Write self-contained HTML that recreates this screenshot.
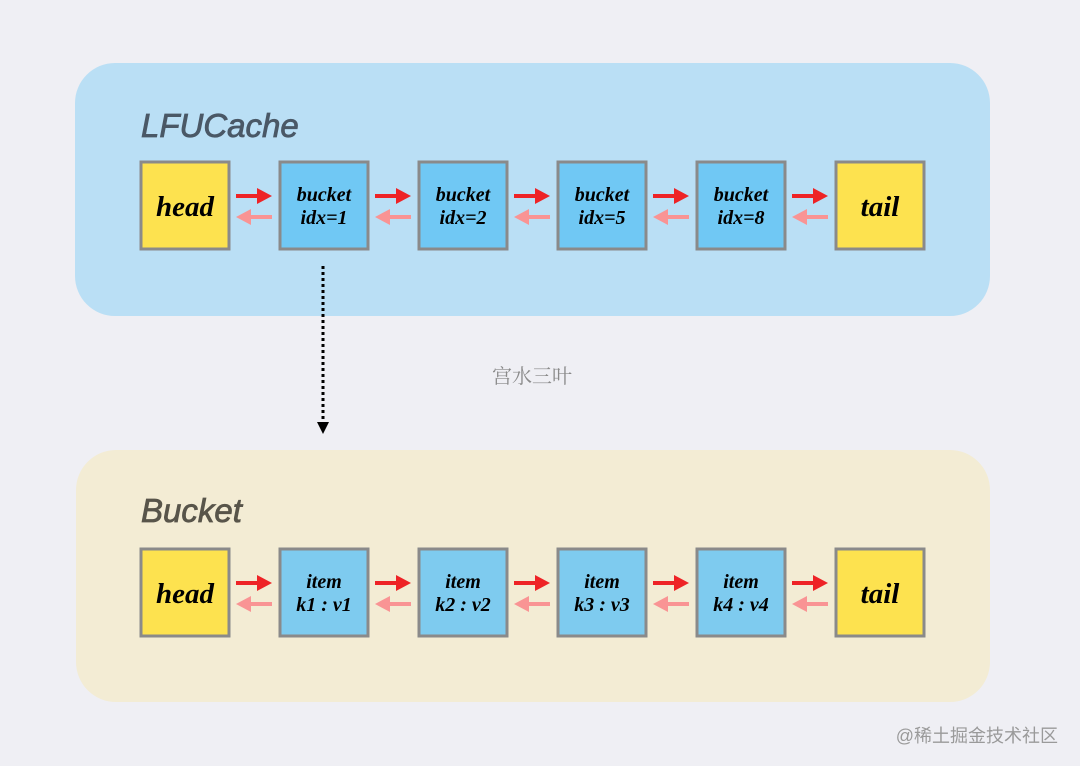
<!DOCTYPE html>
<html><head><meta charset="utf-8"><style>
html,body{margin:0;padding:0;background:#efeff4;}
svg{display:block}
.t{font-family:"Liberation Serif",serif;font-weight:bold;font-style:italic;fill:#000;text-anchor:middle}
</style></head><body>
<svg width="1080" height="766" viewBox="0 0 1080 766" xmlns="http://www.w3.org/2000/svg">
<defs>
<g id="arr">
 <line x1="236" y1="0" x2="259" y2="0" stroke="#ee2326" stroke-width="4"/>
 <polygon points="257,-8 272,0 257,8" fill="#ee2326"/>
 <line x1="249" y1="21" x2="272" y2="21" stroke="#f99494" stroke-width="4"/>
 <polygon points="251,13 236,21 251,29" fill="#f99494"/>
</g>
</defs>
<rect x="0" y="0" width="1080" height="766" fill="#efeff4"/>
<rect x="75" y="63" width="915" height="253" rx="40" fill="#badff5"/>
<rect x="76" y="450" width="914" height="252" rx="40" fill="#f3ecd4"/>
<text x="141" y="137" font-family="Liberation Sans,sans-serif" font-style="italic" font-size="33" fill="#4a5866" stroke="#4a5866" stroke-width="0.8">LFUCache</text>
<text x="141" y="522" font-family="Liberation Sans,sans-serif" font-style="italic" font-size="33" fill="#58554a" stroke="#58554a" stroke-width="0.8">Bucket</text>

<!-- row 1 -->
<g stroke="#8a8a8a" stroke-width="3">
<rect x="141" y="162" width="88" height="87" fill="#fde24f"/>
<rect x="280" y="162" width="88" height="87" fill="#70c8f4"/>
<rect x="419" y="162" width="88" height="87" fill="#70c8f4"/>
<rect x="558" y="162" width="88" height="87" fill="#70c8f4"/>
<rect x="697" y="162" width="88" height="87" fill="#70c8f4"/>
<rect x="836" y="162" width="88" height="87" fill="#fde24f"/>
</g>
<text class="t" x="185" y="216" font-size="29">head</text>
<text class="t" x="880" y="216" font-size="29">tail</text>
<text class="t" x="324" y="201" font-size="20">bucket</text><text class="t" x="324" y="224" font-size="20">idx=1</text>
<text class="t" x="463" y="201" font-size="20">bucket</text><text class="t" x="463" y="224" font-size="20">idx=2</text>
<text class="t" x="602" y="201" font-size="20">bucket</text><text class="t" x="602" y="224" font-size="20">idx=5</text>
<text class="t" x="741" y="201" font-size="20">bucket</text><text class="t" x="741" y="224" font-size="20">idx=8</text>
<use href="#arr" transform="translate(0,196)"/>
<use href="#arr" transform="translate(139,196)"/>
<use href="#arr" transform="translate(278,196)"/>
<use href="#arr" transform="translate(417,196)"/>
<use href="#arr" transform="translate(556,196)"/>

<!-- row 2 -->
<g stroke="#8a8a8a" stroke-width="3">
<rect x="141" y="549" width="88" height="87" fill="#fde24f"/>
<rect x="280" y="549" width="88" height="87" fill="#7ecbef"/>
<rect x="419" y="549" width="88" height="87" fill="#7ecbef"/>
<rect x="558" y="549" width="88" height="87" fill="#7ecbef"/>
<rect x="697" y="549" width="88" height="87" fill="#7ecbef"/>
<rect x="836" y="549" width="88" height="87" fill="#fde24f"/>
</g>
<text class="t" x="185" y="603" font-size="29">head</text>
<text class="t" x="880" y="603" font-size="29">tail</text>
<text class="t" x="324" y="588" font-size="20">item</text><text class="t" x="324" y="611" font-size="20">k1 : v1</text>
<text class="t" x="463" y="588" font-size="20">item</text><text class="t" x="463" y="611" font-size="20">k2 : v2</text>
<text class="t" x="602" y="588" font-size="20">item</text><text class="t" x="602" y="611" font-size="20">k3 : v3</text>
<text class="t" x="741" y="588" font-size="20">item</text><text class="t" x="741" y="611" font-size="20">k4 : v4</text>
<use href="#arr" transform="translate(0,583)"/>
<use href="#arr" transform="translate(139,583)"/>
<use href="#arr" transform="translate(278,583)"/>
<use href="#arr" transform="translate(417,583)"/>
<use href="#arr" transform="translate(556,583)"/>

<!-- dotted connector -->
<line x1="323" y1="266" x2="323" y2="424" stroke="#000" stroke-width="3" stroke-dasharray="3,3"/>
<polygon points="317,422 329,422 323,434" fill="#000"/>

<text x="532" y="383" font-family="Noto Serif CJK SC,serif" font-size="20" fill="#8a8a8a" text-anchor="middle">宫水三叶</text>
<text x="1058" y="742" font-family="Liberation Sans,Noto Sans CJK SC,sans-serif" font-size="18" fill="#9a9a9a" text-anchor="end">@稀土掘金技术社区</text>
</svg>
</body></html>
